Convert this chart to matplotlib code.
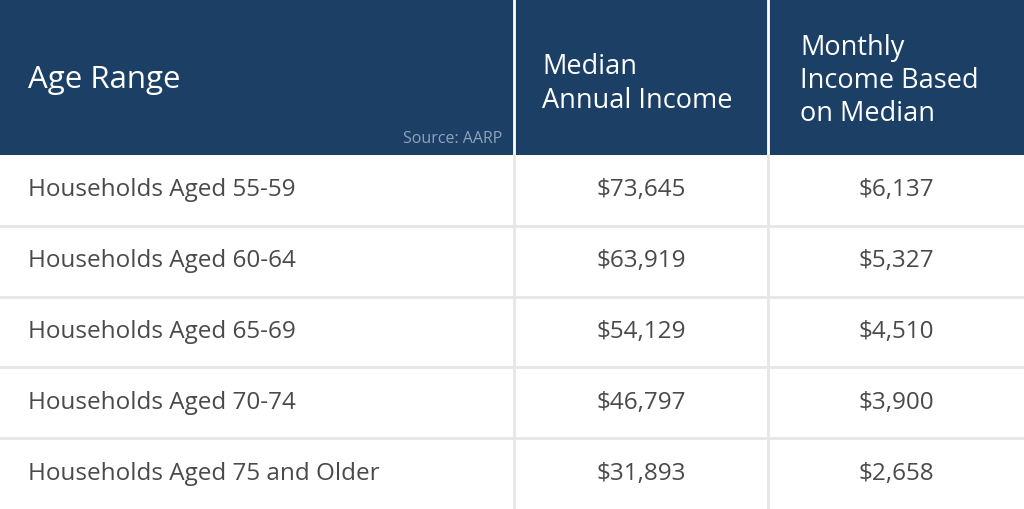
import matplotlib.pyplot as plt

plt.rcParams["font.family"] = "Open Sans"

header_age = "Age Range"
header_annual = "Median\nAnnual Income"
header_monthly = "Monthly\nIncome Based\non Median"
source = "Source: AARP"

age_groups = ["Households Aged 55-59", "Households Aged 60-64", "Households Aged 65-69",
              "Households Aged 70-74", "Households Aged 75 and Older"]
annual = ["$73,645", "$63,919", "$54,129", "$46,797", "$31,893"]
monthly = ["$6,137", "$5,327", "$4,510", "$3,900", "$2,658"]

W, H = 1024, 509
head_h = 155
col1, col2 = 514, 768
navy = "#1c3f66"
txt = "#4a4a4a"
grid = "#e6e6e6"

fig = plt.figure(figsize=(W / 100, H / 100), dpi=100)
ax = fig.add_axes([0, 0, 1, 1])
ax.set_xlim(0, W)
ax.set_ylim(H, 0)
ax.axis("off")

# header
ax.add_patch(plt.Rectangle((0, 0), W, head_h, color=navy, lw=0))
ax.plot([col1, col1], [0, head_h], color="white", lw=2)
ax.plot([col2, col2], [0, head_h], color="white", lw=2)
ax.text(28, 80, header_age, color="white", fontsize=22.5, va="center")
ax.text(542, 84, header_annual, color="white", fontsize=19.5, va="center", linespacing=1.25)
ax.text(800, 81, header_monthly, color="white", fontsize=19.5, va="center", linespacing=1.25)
ax.text(502, 139, source, color="#8ea3bb", fontsize=11.5, va="center", ha="right")

# body
row_h = (H - head_h) / len(age_groups)
for i, (g, a, m) in enumerate(zip(age_groups, annual, monthly)):
    top = head_h + i * row_h
    cy = top + row_h / 2
    if i > 0:
        ax.plot([0, W], [top, top], color=grid, lw=2)
    ax.text(28, cy, g, color=txt, fontsize=17.5, va="center")
    ax.text((col1 + col2) / 2, cy, a, color=txt, fontsize=17.5, va="center", ha="center")
    ax.text((col2 + W) / 2, cy, m, color=txt, fontsize=17.5, va="center", ha="center")
ax.plot([col1, col1], [head_h, H], color=grid, lw=2)
ax.plot([col2, col2], [head_h, H], color=grid, lw=2)

fig.savefig("out.png", dpi=100)
